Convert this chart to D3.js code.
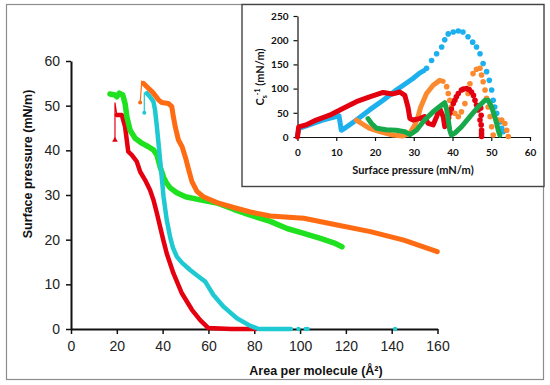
<!DOCTYPE html>
<html><head><meta charset="utf-8">
<script src="https://cdn.jsdelivr.net/npm/d3@7"></script>
<style>body{margin:0;background:#fff}svg{display:block}</style>
</head><body>
<svg id="c" width="550" height="385"></svg>
<script>
// ---- Main chart data: [area per molecule (Å²), surface pressure (mN/m)] ----
const mainXTicks = [0, 20, 40, 60, 80, 100, 120, 140, 160];
const mainYTicks = [0, 10, 20, 30, 40, 50, 60];
const mainRedThin = [[19.2,42.3],[19.2,50.7],[20.0,47.9]];
const mainRed = [[20.0,47.9],[22.2,47.9],[23.6,45.3],[25.0,39.7],[26.5,39.0],[28.7,37.5],[30.2,35.2],[32.3,33.4],[34.5,31.1],[36.0,28.9],[37.5,25.9],[38.9,22.9],[40.3,19.9],[41.8,16.9],[44.7,12.5],[48.4,8.0],[52.8,4.3],[56.4,2.0],[60.0,0.2],[70,0],[81,0]];
const mainGreen = [[17.0,52.6],[19.2,52.4],[20.0,52.0],[21.1,52.8],[22.6,52.4],[23.6,50.5],[24.4,47.5],[25.8,44.5],[28.0,42.7],[30.9,41.6],[33.8,40.8],[36.0,40.1],[37.5,39.0],[38.9,36.3],[40.4,34.0],[41.8,32.6],[43.3,31.6],[46.2,30.5],[50,29.6],[56.4,28.9],[63.7,28.2],[71.0,26.8],[78.3,25.5],[87.0,24.1],[94.3,22.5],[101.6,21.4],[108.9,20.3],[114.7,19.3],[118.3,18.4]];
const mainCyanThin = [[32.0,48.4],[32.0,52.8],[33.1,52.8]];
const mainCyan = [[33.1,52.8],[34.5,52.0],[36.0,50.9],[36.7,49.0],[37.5,45.3],[38.2,41.6],[38.9,37.8],[39.6,34.1],[40.4,29.6],[41.8,24.4],[43.3,20.5],[44.5,18.2],[46.2,16.2],[48.5,14.8],[52.0,13.2],[55.5,11.8],[58.6,10.6],[62.2,7.6],[66.6,5.0],[72.4,2.4],[78.3,0.7],[82,0],[96,0]];
const mainCyanDots = [[99.3,0],[102.5,0],[103.3,0],[141.5,0]];
const mainOrangeThin = [[30.2,50.7],[30.9,55.4],[31.6,55.0]];
const mainOrange = [[31.6,55.0],[33.8,53.9],[36.0,52.8],[38.2,51.3],[39.6,50.7],[42.5,50.5],[44.0,49.8],[44.7,47.5],[45.5,45.3],[46.9,42.3],[48.5,40.8],[50.2,38.0],[51.3,35.8],[52.8,33.0],[55.0,30.8],[57.8,29.6],[63.7,28.3],[71.0,27.2],[78.3,26.2],[87.0,25.3],[101.6,24.8],[116.2,23.3],[130.7,21.8],[145.3,19.9],[159.9,17.3]];

// ---- Inset data: [surface pressure (mN/m), Cs^-1 (mN/m)] ----
const insetXTicks = [0, 10, 20, 30, 40, 50, 60];
const insetYTicks = [0, 50, 100, 150, 200, 250];
const insetBlue = [[0,4],[0.4,18],[3,25],[6.5,35],[10,42],[10.7,44],[11.3,14],[12.2,18],[15.2,35],[18.6,56],[22.1,76],[25.5,97],[27.5,108],[29.8,121],[31.5,132],[32.6,137]];
const insetBlueDots = [[33.3,142],[34.6,158],[35.9,172],[37.2,186],[38.0,201],[38.9,213],[40.2,217],[41.5,219],[42.7,217],[44.0,207],[45.2,196],[46.2,186],[47.1,172],[47.9,152],[48.8,135],[49.5,117],[50.1,97],[50.5,76],[50.9,62],[51.4,49],[52.2,31],[52.7,18],[53.1,11]];
const insetRed = [[0,0],[0.3,21],[2.2,25],[4.8,35],[8.3,45],[11.7,59],[15.2,73],[18.6,83],[22.1,92],[24.6,89],[26.4,93],[27.7,86],[28.5,62],[29.0,38],[29.8,35],[31.5,38],[32.8,42],[33.7,28],[35.0,25],[35.9,42],[36.7,59],[37.6,42],[38.0,21],[38.5,28]];
const insetRedDots = [[39.0,40],[39.3,49],[39.7,58],[40.2,69],[40.6,76],[41.0,83],[41.5,90],[42.3,97],[42.8,99],[43.6,100],[44.3,98],[44.9,93],[45.4,86],[45.8,76],[46.2,66],[46.6,56],[47.1,35],[47.3,60],[47.4,45],[47.4,25],[47.5,14],[47.5,7],[47.5,1]];
const insetOrange = [[15.2,35],[16.5,28],[18.6,18],[21.2,11],[24.6,4],[27.2,2],[29.0,8],[30.3,25],[31.1,42],[31.8,62],[33.3,90],[35.0,107],[36.7,117],[37.6,115]];
const insetOrangeDots = [[38.5,104],[38.9,90],[39.3,76],[39.7,62],[40.6,49],[41.5,42],[42.3,52],[43.2,69],[44.0,90],[44.5,110],[45.3,131],[46.2,140],[47.1,142],[47.5,128],[47.9,114],[48.4,97],[48.8,80],[49.2,62],[49.7,42],[50.1,21],[50.5,4],[51.8,35],[52.7,35],[53.5,28],[54.0,14],[54.4,1]];
const insetGreen = [[18.2,38],[19.1,28],[20.4,18],[22.9,15],[25.5,14],[27.7,11],[29.0,5],[30.7,14],[32.8,35],[35.0,52],[37.2,66],[38.0,71],[38.5,56],[38.9,35],[39.3,14],[39.7,4],[40.6,8],[42.3,21],[44.5,42],[46.6,62],[48.4,76],[49.2,76],[50.1,62],[50.9,42],[51.4,28],[51.8,14],[52.2,4]];

const C = {red:"#e50010", green:"#1fe11f", cyan:"#1ec9d2", orange:"#ff6b12",
           iblue:"#1cb0ee", ired:"#e3000f", iorange:"#fb8a2e", igreen:"#17a84a"};

const svg = d3.select("#c");
svg.append("rect").attr("x",6.5).attr("y",4.5).attr("width",537).attr("height",375)
  .attr("fill","#fff").attr("stroke","#8c8c8c").attr("stroke-width",1.2);

// ---- Main chart ----
const x = d3.scaleLinear().domain([0,160]).range([71,437.5]);
const y = d3.scaleLinear().domain([0,60]).range([329,61]);
const line = d3.line().x(d=>x(d[0])).y(d=>y(d[1]));

const gx = svg.append("g").attr("transform","translate(0,329)")
  .call(d3.axisBottom(x).tickValues(mainXTicks).tickSize(5).tickSizeOuter(0).tickPadding(7));
const gy = svg.append("g").attr("transform","translate(71,0)")
  .call(d3.axisLeft(y).tickValues(mainYTicks).tickSize(5).tickSizeOuter(0).tickPadding(6));
[gx,gy].forEach(g=>{
  g.select(".domain").attr("stroke","#111").attr("stroke-width",2);
  g.selectAll(".tick line").attr("stroke","#111").attr("stroke-width",1.5);
  g.selectAll(".tick text").attr("fill","#222").style("font-family","'Liberation Sans',Arial,sans-serif").style("font-size","14px");
});

function drawMain(thin, thick, color, w){
  if(thin) svg.append("path").attr("d",line(thin)).attr("fill","none").attr("stroke",color).attr("stroke-width",1.2);
  svg.append("path").attr("d",line(thick)).attr("fill","none").attr("stroke",color)
    .attr("stroke-width",w).attr("stroke-linejoin","round").attr("stroke-linecap","round");
}
drawMain(mainRedThin, mainRed, C.red, 4.5);
svg.append("path").attr("d",d3.symbol(d3.symbolTriangle,14)()).attr("fill",C.red)
  .attr("transform",`translate(${x(mainRedThin[0][0])},${y(mainRedThin[0][1])})`);
drawMain(null, mainGreen, C.green, 5.5);
drawMain(mainCyanThin, mainCyan, C.cyan, 4.5);
svg.append("circle").attr("cx",x(mainCyanThin[0][0])).attr("cy",y(mainCyanThin[0][1])).attr("r",2).attr("fill",C.cyan);
svg.selectAll(".cdot").data(mainCyanDots).enter().append("circle")
  .attr("cx",d=>x(d[0])).attr("cy",d=>y(d[1])).attr("r",2.2).attr("fill",C.cyan);
drawMain(mainOrangeThin, mainOrange, C.orange, 5);
svg.append("circle").attr("cx",x(mainOrangeThin[0][0])).attr("cy",y(mainOrangeThin[0][1])).attr("r",2).attr("fill",C.orange);

const bold = "'Liberation Sans',Arial,sans-serif";
svg.append("text").attr("x",316).attr("y",375).attr("text-anchor","middle")
  .style("font-family",bold).style("font-weight","bold").style("font-size","12.5px").attr("fill","#111")
  .text("Area per molecule (Å²)");
svg.append("text").attr("transform","translate(32,164) rotate(-90)").attr("text-anchor","middle")
  .style("font-family",bold).style("font-weight","bold").style("font-size","12.5px").attr("fill","#111")
  .text("Surface pressure (mN/m)");

// ---- Inset ----
svg.append("rect").attr("x",242).attr("y",4.5).attr("width",302).attr("height",182)
  .attr("fill","#fff").attr("stroke","#444").attr("stroke-width",1.4);
const ix = d3.scaleLinear().domain([0,60]).range([297.5,530]);
const iy = d3.scaleLinear().domain([0,250]).range([137,16]);
const iline = d3.line().x(d=>ix(d[0])).y(d=>iy(d[1]));
const ifont = "Lato,'Open Sans',sans-serif";
const igx = svg.append("g").attr("transform","translate(0,137)")
  .call(d3.axisBottom(ix).tickValues(insetXTicks).tickSize(4).tickSizeOuter(0).tickPadding(8));
const igy = svg.append("g").attr("transform","translate(297.5,0)")
  .call(d3.axisLeft(iy).tickValues(insetYTicks).tickSize(4).tickSizeOuter(0).tickPadding(5));
[igx,igy].forEach(g=>{
  g.select(".domain").attr("stroke","#111").attr("stroke-width",1.2);
  g.selectAll(".tick line").attr("stroke","#111").attr("stroke-width",1.2);
  g.selectAll(".tick text").attr("fill","#111").style("font-family",ifont).style("font-weight","bold").style("font-size","10px");
});

function drawInset(pts, dots, color){
  svg.append("path").attr("d",iline(pts)).attr("fill","none").attr("stroke",color)
    .attr("stroke-width",5).attr("stroke-linejoin","round").attr("stroke-linecap","round");
  if(dots) svg.append("g").selectAll("circle").data(dots).enter().append("circle")
    .attr("cx",d=>ix(d[0])).attr("cy",d=>iy(d[1])).attr("r",2.8).attr("fill",color);
}
drawInset(insetBlue, insetBlueDots, C.iblue);
drawInset(insetOrange, insetOrangeDots, C.iorange);
drawInset(insetRed, insetRedDots, C.ired);
drawInset(insetGreen, null, C.igreen);

svg.append("text").attr("x",413).attr("y",174).attr("text-anchor","middle")
  .style("font-family",ifont).style("font-weight","bold").style("font-size","11px").attr("fill","#111")
  .text("Surface pressure (mN/m)");
const yt = svg.append("text").attr("transform","translate(264,77) rotate(-90)").attr("text-anchor","middle")
  .style("font-family",ifont).style("font-weight","bold").style("font-size","11px").attr("fill","#111");
yt.append("tspan").text("C");
yt.append("tspan").attr("dy",3).style("font-size","7px").text("s");
yt.append("tspan").attr("dy",-7).style("font-size","7px").text("-1");
yt.append("tspan").attr("dy",4).text(" (mN/m)");
</script>
</body></html>
